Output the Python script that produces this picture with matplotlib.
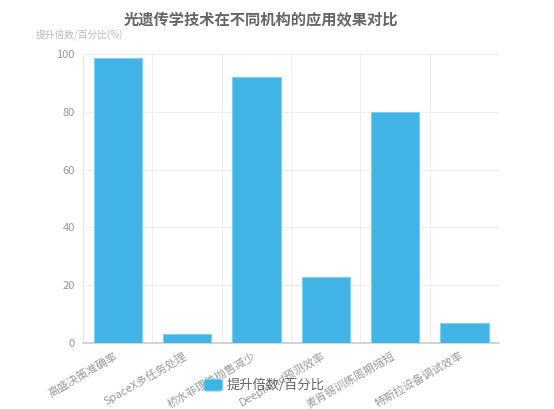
import numpy as np
import matplotlib.pyplot as plt
from matplotlib.patches import FancyBboxPatch

plt.rcParams['font.family'] = ['Noto Sans CJK SC', 'DejaVu Sans']

# 数据
categories = ['高盛决策准确率', 'SpaceX多任务处理', '桥水非理性抛售减少',
              'DeepMind预测效率', '麦肯锡训练周期缩短', '特斯拉设备调试效率']
values = [98.5, 3, 92, 23, 80, 7]
series_name = '提升倍数/百分比'

bar_color = '#41b3e4'
edge_color = '#7fd0f2'

fig = plt.figure(figsize=(5.54, 4.09), dpi=100)
ax = fig.add_axes([0.150, 0.161, 0.751, 0.707])

x = np.arange(len(categories))
ax.bar(x, values, width=0.7, color=bar_color, edgecolor=edge_color, linewidth=0.8, zorder=3)

ax.set_xlim(-0.5, len(categories) - 0.5)
ax.set_ylim(0, 100)
ax.set_yticks(np.arange(0, 101, 20))

# 网格：水平线 + 类目分隔竖线
ax.grid(axis='y', color='#eeeeee', linewidth=0.8, zorder=0)
for b in np.arange(0.5, len(categories), 1):
    ax.axvline(b, color='#eeeeee', linewidth=0.8, zorder=0)

for s in ['top', 'right']:
    ax.spines[s].set_visible(False)
ax.spines['left'].set_color('#e6e6e6')
ax.spines['bottom'].set_color('#cccccc')
ax.spines['bottom'].set_linewidth(1.2)

ax.set_xticks(x - 0.06)
ax.set_xticklabels(categories, rotation=30, ha='right', rotation_mode='anchor',
                   fontsize=8, color='#999999')
ax.tick_params(axis='x', length=0, pad=5)
ax.tick_params(axis='y', length=0, pad=6, labelsize=8, labelcolor='#999999')

fig.text(0.471, 0.950, '光遗传学技术在不同机构的应用效果对比', ha='center', va='center',
         fontsize=11, fontweight='bold', color='#666666')
fig.text(0.065, 0.913, '提升倍数/百分比(%)', ha='left', va='center',
         fontsize=7, color='#bbbbbb')

# 图例
leg_box = FancyBboxPatch((0.368, 0.044), 0.034, 0.029, boxstyle='round,pad=0,rounding_size=0.006',
                         transform=fig.transFigure, facecolor=bar_color, edgecolor=edge_color,
                         linewidth=0.8)
fig.patches.append(leg_box)
fig.text(0.410, 0.058, series_name, ha='left', va='center', fontsize=9.5, color='#666666')

fig.savefig('out.png', dpi=100)
